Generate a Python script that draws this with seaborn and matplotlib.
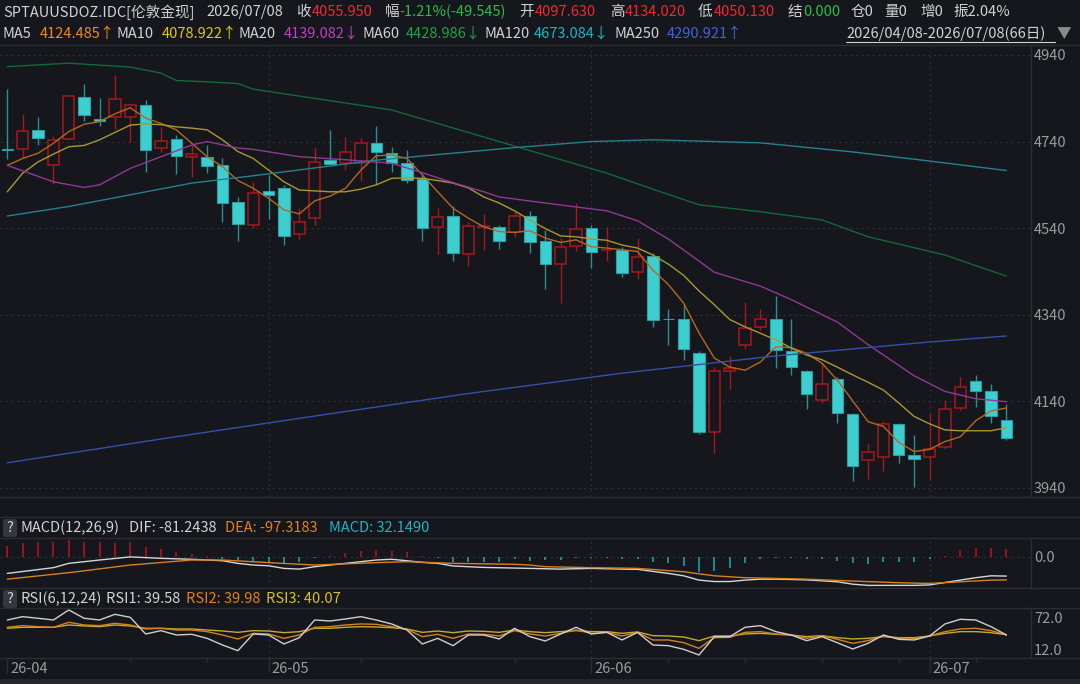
import numpy as np
import pandas as pd
import matplotlib
matplotlib.use('Agg')
import matplotlib.pyplot as plt
import matplotlib.transforms as mtransforms
from matplotlib.lines import Line2D
from matplotlib.patches import FancyBboxPatch
import seaborn as sns

# ---- data ----
dates = pd.bdate_range('2026-04-08', '2026-07-08')

opens = [4723, 4722, 4766, 4685, 4747, 4842, 4792, 4796, 4796, 4825,
         4725, 4745, 4705, 4704, 4685, 4600, 4547, 4626, 4632, 4527,
         4563, 4697, 4690, 4690, 4736, 4714, 4690, 4654, 4543, 4567,
         4480, 4542, 4543, 4532, 4569, 4510, 4457, 4499, 4541, 4489,
         4490, 4438, 4476, 4330, 4330, 4251, 4069, 4209, 4269, 4311,
         4330, 4256, 4209, 4143, 4191, 4110, 4004, 4011, 4087, 4016,
         4011, 4035, 4124, 4187, 4164, 4097.630]
highs = [4861, 4804, 4796, 4753, 4848, 4873, 4840, 4893, 4830, 4836,
         4774, 4755, 4736, 4731, 4701, 4612, 4647, 4663, 4640, 4587,
         4725, 4767, 4750, 4749, 4776, 4728, 4721, 4663, 4586, 4590,
         4555, 4572, 4547, 4578, 4580, 4536, 4517, 4597, 4547, 4542,
         4497, 4517, 4482, 4353, 4364, 4256, 4219, 4245, 4369, 4354,
         4383, 4330, 4213, 4229, 4197, 4113, 4042, 4095, 4090, 4062,
         4114, 4142, 4196, 4201, 4180, 4134.020]
lows = [4700, 4701, 4731, 4642, 4745, 4788, 4775, 4770, 4739, 4669,
        4716, 4665, 4659, 4668, 4555, 4510, 4540, 4562, 4501, 4514,
        4547, 4686, 4674, 4650, 4642, 4670, 4645, 4511, 4480, 4465,
        4453, 4490, 4492, 4520, 4483, 4400, 4366, 4488, 4449, 4463,
        4427, 4423, 4311, 4269, 4236, 4065, 4021, 4169, 4260, 4305,
        4218, 4201, 4122, 4136, 4089, 3957, 3960, 3980, 3998, 3942,
        3959, 4029, 4120, 4126, 4091, 4050.130]
closes = [4721, 4765, 4749, 4744, 4845, 4801, 4788, 4839, 4824, 4721,
          4741, 4707, 4711, 4683, 4598, 4550, 4621, 4616, 4522, 4555,
          4692, 4688, 4715, 4736, 4716, 4690, 4651, 4540, 4566, 4482,
          4544, 4544, 4510, 4569, 4507, 4457, 4496, 4539, 4486, 4490,
          4436, 4474, 4328, 4329, 4260, 4070, 4210, 4216, 4309, 4330,
          4259, 4219, 4158, 4180, 4112, 3991, 4022, 4087, 4016, 4006,
          4029, 4122, 4173, 4164, 4105, 4055.950]

ma5 = [4685, 4701, 4713, 4736, 4763, 4780, 4786, 4804, 4818, 4794,
       4782, 4767, 4736, 4705, 4682, 4650, 4632, 4609, 4582, 4573,
       4603, 4614, 4632, 4674, 4707, 4709, 4701, 4663, 4624, 4586,
       4563, 4543, 4532, 4530, 4534, 4517, 4507, 4513, 4497, 4494,
       4490, 4486, 4443, 4410, 4367, 4298, 4240, 4219, 4212, 4231,
       4266, 4264, 4251, 4228, 4189, 4141, 4093, 4082, 4045, 4024,
       4029, 4047, 4058, 4095, 4118, 4124.485]
ma10 = [4624, 4667, 4693, 4711, 4728, 4731, 4744, 4761, 4778, 4781,
        4779, 4774, 4771, 4767, 4744, 4717, 4701, 4674, 4647, 4628,
        4626, 4624, 4624, 4630, 4640, 4655, 4656, 4655, 4650, 4644,
        4633, 4612, 4598, 4580, 4559, 4539, 4522, 4520, 4515, 4512,
        4501, 4494, 4478, 4457, 4431, 4395, 4363, 4329, 4312, 4297,
        4282, 4263, 4247, 4236, 4219, 4201, 4184, 4166, 4136, 4105,
        4088, 4074, 4072, 4072, 4072, 4078.922]
ma20_idx = [0, 3, 5, 6, 8, 10, 12, 13, 15, 16, 19, 22, 25, 27, 29, 31,
            32, 35, 39, 41, 43, 45, 46, 49, 51, 54, 56, 59, 61, 63, 65]
ma20 = [4685, 4647, 4634, 4640, 4678, 4705, 4732, 4740, 4725, 4722, 4705,
        4698, 4690, 4668, 4645, 4624, 4612, 4598, 4580, 4557, 4515, 4464,
        4438, 4406, 4375, 4323, 4271, 4199, 4163, 4146, 4139.082]
ma60_idx = [0, 4, 8, 10, 11, 13, 15, 16, 25, 32, 39, 42, 45, 49, 53, 56, 61, 65]
ma60 = [4913, 4921, 4912, 4898, 4881, 4878, 4874, 4861, 4813, 4740,
        4667, 4630, 4594, 4578, 4559, 4520, 4478, 4428.986]
ma120_idx = [0, 4, 8, 12, 16, 24, 33, 38, 42, 49, 55, 60, 65]
ma120 = [4568, 4590, 4617, 4644, 4661, 4697, 4726, 4740, 4744, 4737,
         4716, 4695, 4673.084]
ma250_idx = [0, 10, 20, 30, 40, 50, 60, 65]
ma250 = [3998, 4053, 4106, 4158, 4205, 4245, 4277, 4290.921]

macd_hist = [45, 59, 60, 60, 70, 63, 63, 56, 63, 42,
             31, 20, 11, 2, -10, -14, -20, -25, -25, -24,
             -7, 4, 14, 22, 28, 24, 18, 1, -7, -21,
             -21, -21, -21, -11, -17, -14, -14, -4, -5, -4,
             -8, -8, -21, -28, -39, -66, -60, -49, -28, -10,
             -7, -7, -11, -11, -17, -28, -32, -24, -22, -22,
             -11, 4, 27, 38, 38, 32.149]
dif_idx = [0, 3, 4, 6, 8, 9, 10, 12, 14, 15, 16, 17, 18, 19, 20, 21, 23, 24,
           25, 26, 27, 28, 29, 30, 31, 34, 36, 38, 40, 41, 43, 44, 45, 46, 47,
           48, 49, 50, 52, 54, 55, 56, 59, 60, 61, 62, 63, 64, 65]
dif = [-70, -46, -28, -14, -1, -4, -7, -11, -17, -28, -35, -38, -49, -52, -42,
       -35, -21, -14, -11, -17, -24, -28, -39, -42, -45, -49, -52, -49, -52,
       -53, -70, -80, -98, -104, -104, -98, -94, -94, -97, -105, -115, -120,
       -120, -118, -108, -98, -88, -80, -81.2438]
dea_idx = [0, 4, 8, 12, 14, 17, 20, 24, 26, 29, 33, 34, 35, 38, 41, 44, 46,
           48, 52, 55, 58, 60, 62, 64, 65]
dea = [-94, -67, -35, -14, -14, -25, -35, -25, -21, -28, -32, -35, -42, -46,
       -49, -63, -80, -88, -94, -102, -109, -112, -105, -98, -97.3183]

rsi1 = [67.9, 74.2, 71.1, 67.9, 86.8, 71.1, 67.9, 78.6, 72.9, 41.5,
        47.8, 39.6, 40.9, 33.3, 20.7, 10.0, 41.5, 39.6, 22.6, 34.6,
        67.9, 66.0, 69.8, 74.2, 67.9, 60.4, 49.0, 22.6, 33.3, 19.5,
        39.6, 39.6, 32.1, 52.2, 36.5, 28.3, 41.5, 54.1, 41.5, 44.6,
        30.2, 44.6, 20.7, 19.5, 12.6, 1.9, 36.5, 36.5, 54.1, 57.2,
        45.9, 39.6, 28.9, 36.5, 25.1, 13.2, 23.9, 39.6, 31.4, 30.2,
        37.7, 60.4, 69.2, 67.9, 55.3, 39.58]
rsi2 = [54.1, 57.2, 55.3, 54.1, 63.5, 58.5, 57.2, 61.6, 58.5, 50.9,
        52.2, 49.0, 49.0, 45.9, 39.6, 32.1, 42.7, 41.5, 33.3, 39.6,
        54.1, 55.3, 58.5, 60.4, 59.7, 55.3, 50.3, 36.5, 40.9, 33.3,
        41.5, 40.9, 37.7, 47.8, 41.5, 37.7, 42.7, 49.0, 42.7, 44.6,
        37.7, 44.6, 30.2, 30.2, 25.1, 14.4, 34.6, 35.2, 44.6, 45.9,
        41.5, 39.6, 33.3, 38.3, 31.4, 23.9, 28.9, 37.7, 33.3, 32.7,
        37.7, 45.9, 50.9, 52.2, 47.8, 39.98]
rsi3 = [52.2, 54.1, 54.1, 54.1, 58.5, 56.6, 55.3, 58.5, 56.6, 52.2,
        52.2, 50.9, 50.9, 49.0, 47.1, 44.6, 47.8, 47.1, 44.0, 45.9,
        52.2, 52.2, 54.1, 55.3, 54.7, 53.4, 50.9, 44.6, 47.1, 44.0,
        47.1, 46.5, 44.6, 49.0, 45.9, 44.0, 45.9, 47.8, 45.9, 45.9,
        42.7, 45.3, 38.3, 37.7, 35.8, 28.9, 37.7, 37.7, 41.5, 42.7,
        40.9, 39.6, 36.5, 38.3, 34.6, 32.1, 33.3, 36.5, 34.6, 34.6,
        37.7, 42.7, 45.9, 45.9, 44.0, 40.07]

price_ticks = [3940, 4140, 4340, 4540, 4740, 4940]
rsi_ticks = [12, 72]
week_ticks = [8, 13, 23, 33, 43, 48, 53, 58, 63]

# ---- style ----
BG = '#15171c'
GRID = '#2c3038'
SEP = '#2a2d34'
TXT = '#d2d2d2'
AXT = '#9c9c9c'
RED = '#ee2a2e'
GREEN = '#2bbd4a'
UP = '#a8181c'
DN = '#3dcfd0'
DN_EDGE = '#2a9ea3'
DN_WICK = '#2b8f95'

sns.set_theme(style='dark', rc={'axes.facecolor': BG, 'figure.facecolor': BG})
plt.rcParams['font.family'] = ['Noto Sans CJK SC', 'DejaVu Sans']
FS = 10.5

W, H = 1080, 684


def box(x0, y0, x1, y1):
    return [x0 / W, 1 - y1 / H, (x1 - x0) / W, (y1 - y0) / H]


fig = plt.figure(figsize=(10.8, 6.84), dpi=100, facecolor=BG)
ax = fig.add_axes(box(0, 45, 1031, 497))
ax_macd = fig.add_axes(box(0, 538, 1031, 588), sharex=ax)
ax_rsi = fig.add_axes(box(0, 608, 1031, 658), sharex=ax)

x = np.arange(len(dates))
o, h, l, c = map(np.array, (opens, highs, lows, closes))
up = c >= o

# candles
ax.vlines(x[up], l[up], h[up], color=UP, lw=1, zorder=2)
ax.vlines(x[~up], l[~up], h[~up], color=DN_WICK, lw=1, zorder=2)
ax.bar(x[up], (c - o)[up], bottom=o[up], width=0.74, facecolor=BG,
       edgecolor=UP, lw=1.1, zorder=3)
ax.bar(x[~up], (o - c)[~up], bottom=c[~up], width=0.74, facecolor=DN,
       edgecolor=DN_EDGE, lw=0.8, zorder=3)

ma_lines = [(x, ma5, '#b8661f'), (x, ma10, '#aa9832'), (ma20_idx, ma20, '#933894'),
            (ma60_idx, ma60, '#12683b'), (ma120_idx, ma120, '#26808f'),
            (ma250_idx, ma250, '#3151ab')]
for xi, yi, col in ma_lines:
    sns.lineplot(x=list(xi), y=yi, ax=ax, color=col, lw=1.0, sort=False, zorder=4)

ax.set_ylim(3919, 4963)
ax.set_xlim(-0.475, 66.6)
ax.set_yticks(price_ticks)
ax.set_yticklabels([str(t) for t in price_ticks])

# MACD
hist = np.array(macd_hist)
ax_macd.vlines(x, 0, hist, colors=np.where(hist > 0, '#b0141c', '#1f9ea4'), lw=1.2)
sns.lineplot(x=dif_idx, y=dif, ax=ax_macd, color='#d6d6d6', lw=1.0, sort=False)
sns.lineplot(x=dea_idx, y=dea, ax=ax_macd, color='#d9801e', lw=1.0, sort=False)
ax_macd.set_ylim(-131, 78)
ax_macd.set_yticks([0])
ax_macd.set_yticklabels(['0.0'])

# RSI
for vals, col in [(rsi3, '#bfae2c'), (rsi2, '#d9801e'), (rsi1, '#cfcfcf')]:
    sns.lineplot(x=x, y=vals, ax=ax_rsi, color=col, lw=1.0, sort=False)
ax_rsi.set_ylim(-3.8, 90.5)
ax_rsi.set_yticks(rsi_ticks)
ax_rsi.set_yticklabels([f'{t:.1f}' for t in rsi_ticks])

month_idx = [i for i in range(len(dates)) if i == 0 or dates[i].month != dates[i - 1].month]

for a in (ax, ax_macd, ax_rsi):
    a.set_facecolor(BG)
    a.set_xlabel('')
    a.set_ylabel('')
    for s in ('top', 'bottom', 'left'):
        a.spines[s].set_visible(False)
    a.spines['right'].set_visible(True)
    a.spines['right'].set_color(SEP)
    a.spines['right'].set_linewidth(1)
    a.yaxis.tick_right()
    a.tick_params(axis='y', length=0, pad=2, labelsize=FS, colors=AXT)
    a.tick_params(axis='x', length=0, labelbottom=False)
    a.grid(False)
    for m in month_idx[1:]:
        a.axvline(m, color=GRID, lw=0.8, ls=(0, (2, 3)), zorder=0)

for t in price_ticks:
    ax.axhline(t, color=GRID, lw=0.8, ls=(0, (2, 3)), zorder=0)
ax_macd.axhline(0, color=GRID, lw=0.8, ls=(0, (2, 3)), zorder=0)

# panel separators
for yy in (45, 497, 517, 538, 588, 608, 658):
    fig.add_artist(Line2D([0, 1], [1 - yy / H] * 2, color=SEP, lw=1))
fig.add_artist(plt.Rectangle((0, 0), 1, 5 / H, color='#24272d', lw=0))

# date axis
tr = mtransforms.blended_transform_factory(ax_rsi.transData, fig.transFigure)
ax_rsi.vlines(month_idx, 1 - 673 / H, 1 - 658 / H, color=SEP, lw=1, transform=tr, clip_on=False)
ax_rsi.vlines(week_ticks, 1 - 662 / H, 1 - 658 / H, color=SEP, lw=1, transform=tr, clip_on=False)
for m in month_idx:
    ax_rsi.text(m + 0.2, 1 - 669 / H, dates[m].strftime('%y-%m'), transform=tr,
                ha='left', va='center', color=AXT, fontsize=FS)


def put(px, py, s, col=TXT, **kw):
    fig.text(px / W, 1 - py / H, s, color=col, fontsize=FS, ha='left', va='center', **kw)


# header line 1
put(3, 12, 'SPTAUUSDOZ.IDC[伦敦金现]')
put(206, 12, dates[-1].strftime('%Y/%m/%d'))
put(296, 12, '收')
put(312, 12, f'{closes[-1]:.3f}', RED)
put(385, 12, '幅')
put(399, 12, '-1.21%(-49.545)', GREEN)
put(519, 12, '开')
put(535, 12, f'{opens[-1]:.3f}', RED)
put(610, 12, '高')
put(625, 12, f'{highs[-1]:.3f}', RED)
put(698, 12, '低')
put(714, 12, f'{lows[-1]:.3f}', RED)
put(788, 12, '结')
put(803, 12, '0.000', GREEN)
put(851, 12, '仓0')
put(884, 12, '量0')
put(920, 12, '增0')
put(953, 12, '振2.04%')

# header line 2
ma_head = [(2, 40, 'MA5', ma5[-1], '↑', '#f08a24'),
           (117, 162, 'MA10', ma10[-1], '↑', '#e3c41f'),
           (239, 284, 'MA20', ma20[-1], '↓', '#c23fc6'),
           (362, 406, 'MA60', ma60[-1], '↓', '#23a047'),
           (484, 534, 'MA120', ma120[-1], '↓', '#22b3c9'),
           (614, 667, 'MA250', ma250[-1], '↑', '#3b66dd')]
for px0, px1, name, val, arrow, col in ma_head:
    put(px0, 34, name)
    put(px1, 34, f'{val:.3f}{arrow}', col)
rng = f"{dates[0].strftime('%Y/%m/%d')}-{dates[-1].strftime('%Y/%m/%d')}({len(dates)}日)"
put(846, 34, rng)
fig.add_artist(Line2D([846 / W, 1055 / W], [1 - 42 / H] * 2, color=TXT, lw=0.8))
put(1057, 34, '▼', '#8a8a8a')

# MACD / RSI headers
for py in (528, 599):
    fig.add_artist(FancyBboxPatch((3 / W, 1 - (py + 9) / H), 14 / W, 18 / H,
                                  boxstyle='round,pad=0,rounding_size=0.003',
                                  fc='#34373e', ec='none'))
    put(6, py, '?')
put(21, 528, 'MACD(12,26,9)')
put(129, 528, f'DIF: {dif[-1]:.4f}')
put(225, 528, f'DEA: {dea[-1]:.4f}', '#e0821e')
put(329, 528, f'MACD: {macd_hist[-1]:.4f}', '#1fb5c6')
put(21, 599, 'RSI(6,12,24)')
put(106, 599, f'RSI1: {rsi1[-1]:.2f}')
put(186, 599, f'RSI2: {rsi2[-1]:.2f}', '#e0821e')
put(266, 599, f'RSI3: {rsi3[-1]:.2f}', '#d4c125')

fig.savefig('out.png', dpi=100, facecolor=BG)
